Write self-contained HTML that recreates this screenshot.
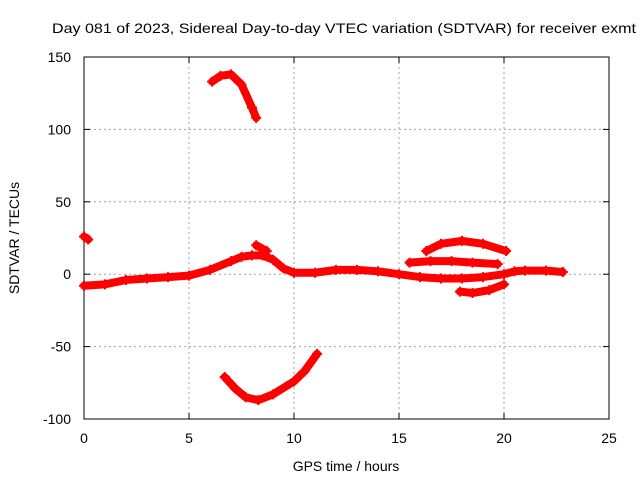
<!DOCTYPE html>
<html><head><meta charset="utf-8"><style>
body{margin:0;background:#fff;}
svg{display:block;font-family:"Liberation Sans",sans-serif;}
</style></head><body>
<svg id="chart" width="640" height="480" xmlns="http://www.w3.org/2000/svg">
<text x="52" y="33" font-size="14" textLength="584" lengthAdjust="spacingAndGlyphs">Day 081 of 2023, Sidereal Day-to-day VTEC variation (SDTVAR) for receiver exmt</text>
<g id="grid"></g>
<g id="axes"></g>
<g id="series"></g>
<text x="346" y="471" font-size="14" text-anchor="middle">GPS time / hours</text>
<text transform="translate(19,238) rotate(-90)" font-size="14" text-anchor="middle">SDTVAR / TECUs</text>
</svg>
<script>
const xTicks=[0,5,10,15,20,25];
const yTicks=[-100,-50,0,50,100,150];
const trackMain=[[0,-8],[1,-7],[2,-4],[3,-3],[4,-2],[5,-1],[6,3],[7,9],[7.5,12],[8,13],[8.5,13],[9,10],[9.5,4],[10,1],[11,1],[12,3],[13,3],[14,2],[15,0],[16,-2],[17,-3],[18,-3],[19,-2],[20,0],[20.5,2],[21,2.5],[22,2.5],[22.8,1.5]];
const trackSpikeA=[[0,26],[0.2,24]];
const trackSpikeB=[[8.2,20],[8.7,16]];
const trackTop=[[6.1,133],[6.5,137],[7,138],[7.5,131],[8,115],[8.2,108]];
const trackBottom=[[6.7,-71],[7.2,-79],[7.7,-85],[8.3,-87],[9,-83],[10,-74],[10.5,-67],[11.1,-55]];
const trackArc=[[16.3,16],[17,21],[18,23],[19,21],[20.1,16]];
const trackFlat=[[15.5,8],[16.5,9],[17.5,9],[18.5,8],[19.7,7]];
const trackLow=[[17.9,-12],[18.5,-13],[19.3,-11],[20,-7]];
const NS="http://www.w3.org/2000/svg";
const L=84,R=609,T=57,B=419;
const xs=v=>L+(v-0)/25*(R-L);
const ys=v=>B-(v+100)/250*(B-T);
function mk(tag,at,parent){const e=document.createElementNS(NS,tag);for(const k in at)e.setAttribute(k,at[k]);parent.appendChild(e);return e;}
const grid=document.getElementById('grid'),axes=document.getElementById('axes'),ser=document.getElementById('series');
xTicks.forEach(t=>{
 if(t>0&&t<25){const g=mk('line',{x1:xs(t),x2:xs(t),y1:T,y2:B,stroke:'#a0a0a0','stroke-dasharray':'2,3'},grid);
 }
 const tk=mk('text',{x:xs(t),y:B+24,'font-size':14,'text-anchor':'middle'},axes);tk.textContent=t;
 
 mk('line',{x1:xs(t),x2:xs(t),y1:B,y2:B-6,stroke:'#000'},axes);mk('line',{x1:xs(t),x2:xs(t),y1:T,y2:T+6,stroke:'#000'},axes);
});
yTicks.forEach(t=>{
 if(t>-100&&t<150){const g=mk('line',{x1:L,x2:R,y1:ys(t),y2:ys(t),stroke:'#a0a0a0','stroke-dasharray':'2,3'},grid);
 }
 const tk=mk('text',{x:L-13,y:ys(t)+5,'font-size':14,'text-anchor':'end'},axes);tk.textContent=t;
 
 mk('line',{x1:L,x2:L+6,y1:ys(t),y2:ys(t),stroke:'#000'},axes);mk('line',{x1:R,x2:R-6,y1:ys(t),y2:ys(t),stroke:'#000'},axes);
});
const fr=mk('rect',{x:L,y:T,width:R-L,height:B-T,fill:'none',stroke:'#000'},axes);

[trackMain,trackSpikeA,trackSpikeB,trackTop,trackBottom,trackArc,trackFlat,trackLow].forEach(tr=>{
 const p=mk('polyline',{points:tr.map(d=>xs(d[0])+','+ys(d[1])).join(' '),fill:'none',stroke:'#ff0000','stroke-width':8,'stroke-linejoin':'round','stroke-linecap':'round'},ser);
 
 tr.forEach(d=>{const x=xs(d[0]),y=ys(d[1]);
  const m=mk('path',{d:`M${x-5},${y}H${x+5}M${x},${y-5}V${y+5}`,stroke:'#ff0000','stroke-width':2},ser);
  });
});
</script>
</body></html>
